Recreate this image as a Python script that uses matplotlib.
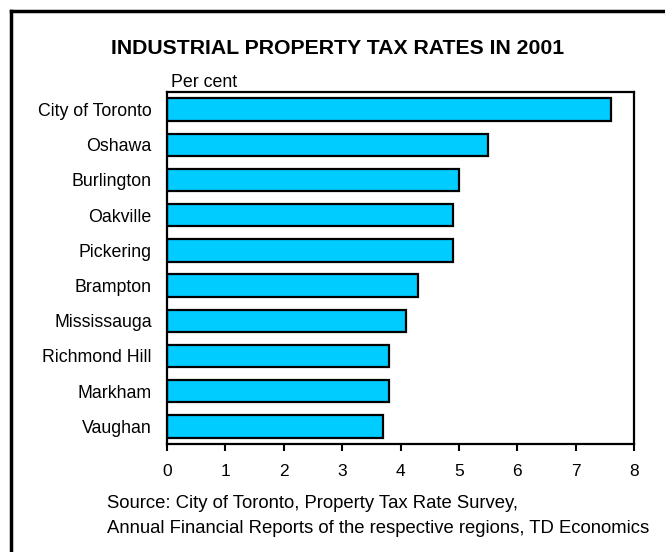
import matplotlib
matplotlib.use("Agg")
import matplotlib.pyplot as plt
from matplotlib.lines import Line2D

plt.rcParams['font.family'] = ['Liberation Sans', 'DejaVu Sans']

# Industrial property tax rates, 2001 (per cent)
cities = ["City of Toronto", "Oshawa", "Burlington", "Oakville", "Pickering",
          "Brampton", "Mississauga", "Richmond Hill", "Markham", "Vaughan"]
rates = [7.6, 5.5, 5.0, 4.9, 4.9, 4.3, 4.1, 3.8, 3.8, 3.7]
xticks = [0, 1, 2, 3, 4, 5, 6, 7, 8]
source_lines = ["Source: City of Toronto, Property Tax Rate Survey,",
                "Annual Financial Reports of the respective regions, TD Economics"]

W, H = 665, 552
fig = plt.figure(figsize=(W / 100, H / 100), dpi=100)
ax = fig.add_axes([167 / W, 1 - 444 / H, (634 - 167) / W, (444 - 92) / H])

pos = list(range(len(cities)))
ax.barh(pos, rates, height=0.64, color="#00ccff", edgecolor="black", linewidth=1.6)
ax.set_ylim(len(cities) - 0.5, -0.5)
ax.set_xlim(0, 8)
ax.set_yticks(pos)
ax.set_yticklabels(cities, fontsize=12.8)
ax.set_xticks(xticks)
ax.set_xticklabels([str(t) for t in xticks], fontsize=12.5)
ax.tick_params(axis="y", length=0, pad=11)
ax.tick_params(axis="x", length=5, width=1.5, direction="out", pad=9.5)
for s in ax.spines.values():
    s.set_linewidth(1.6)

# title and annotations
fig.text(338 / W, 1 - 54 / H, "INDUSTRIAL PROPERTY TAX RATES IN 2001",
         fontsize=15.3, fontweight="bold", ha="center", va="baseline")
fig.text(171 / W, 1 - 87 / H, "Per cent", fontsize=12.8, ha="left", va="baseline")
for line, base in zip(source_lines, [508, 533]):
    fig.text(107 / W, 1 - base / H, line, fontsize=13.3, ha="left", va="baseline")

# frame around the chart (top and left edges fall inside the image)
fig.add_artist(Line2D([10.5 / W, 1.01], [1 - 10.5 / H, 1 - 10.5 / H],
                      transform=fig.transFigure, color="black", linewidth=2.5))
fig.add_artist(Line2D([10.5 / W, 10.5 / W], [1 - 10.5 / H, -0.01],
                      transform=fig.transFigure, color="black", linewidth=2.5))

fig.savefig("out.png", dpi=100)
